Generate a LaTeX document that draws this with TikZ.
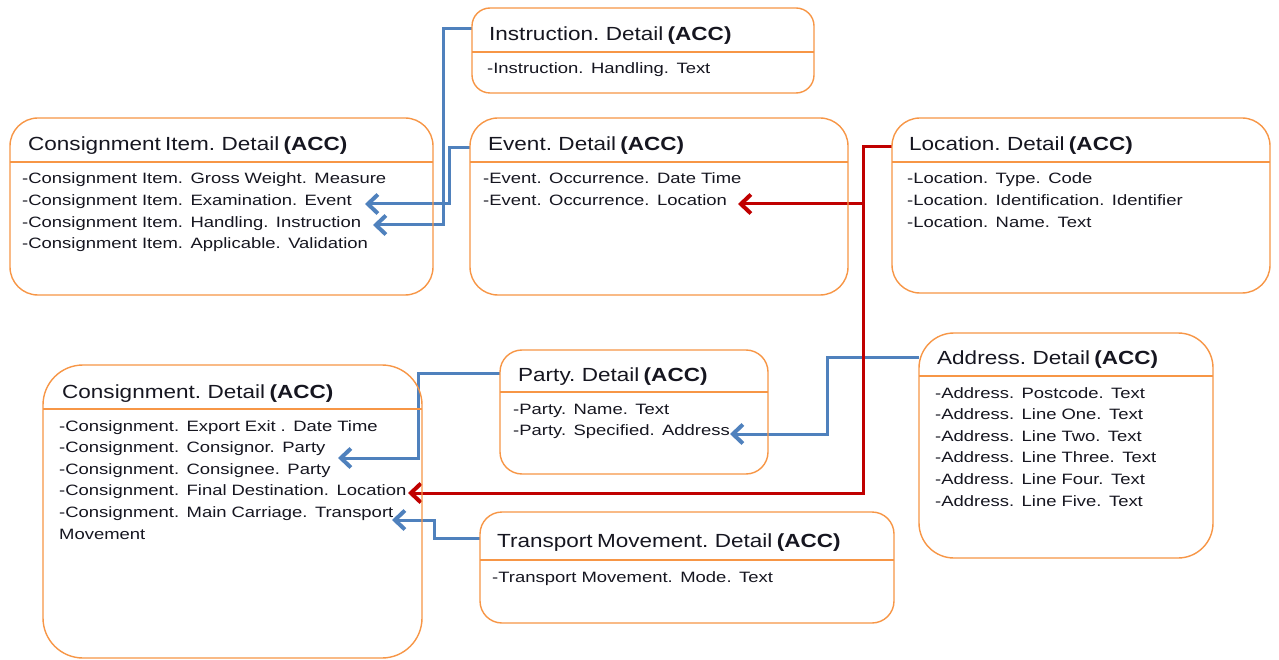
\documentclass[tikz,border=0pt]{standalone}
\usepackage{fontspec}
\newfontfamily\ttlfont{Liberation Sans}[FakeStretch=1.185, WordSpace=0.7]
\newfontfamily\bodfont{Liberation Sans}[FakeStretch=1.23, WordSpace=0.78]
\usetikzlibrary{arrows.meta,calc}
\definecolor{boxorange}{RGB}{247,150,70}
\definecolor{linkblue}{RGB}{79,129,189}
\definecolor{linkred}{RGB}{192,0,0}
\definecolor{ink}{RGB}{22,22,32}
\pgfdeclarelayer{links}
\pgfsetlayers{links,main}
\tikzset{
  acc/.style={draw=boxorange, line width=1.4pt, rectangle, outer sep=0pt, inner sep=0pt, anchor=north west},
  sepline/.style={draw=boxorange, line width=1.4pt},
  ttl/.style={anchor=base west, inner sep=0pt, text=ink, font=\ttlfont\fontsize{19}{23}\selectfont},
  attrs/.style={anchor=base west, inner sep=0pt, text=ink, text width=420pt, align=left, font=\bodfont\fontsize{15}{21.6}\selectfont},
  barb/.tip={Straight Barb[length=10pt,width=19pt,line width=4pt]},
  bluelink/.style={draw=linkblue, line width=3pt, -barb},
  redlink/.style={draw=linkred, line width=3pt, -barb}
}
\begin{document}
\begin{tikzpicture}[x=1pt, y=-1pt]
\useasboundingbox (0,0) rectangle (1279,660);
\begin{pgfonlayer}{links}
\fill[white] (0,0) rectangle (1279,660);
\end{pgfonlayer}

% ---- Instruction
\node[acc, rounded corners=18pt, minimum width=342pt, minimum height=85pt] (instr) at (472,8) {};
\draw[sepline] ($(instr.north west)+(0,44)$) -- ($(instr.north east)+(0,44)$);
\node[ttl] (instr-title) at ($(instr.north west)+(17,33)$) {Instruction. Detail \textbf{(ACC)}};
\node[attrs] (instr-attrs) at ($(instr.north west)+(15,66)$) {-Instruction. Handling. Text};

% ---- Consignment Item
\node[acc, rounded corners=28pt, minimum width=423pt, minimum height=177pt] (item) at (10,118) {};
\draw[sepline] ($(item.north west)+(0,44)$) -- ($(item.north east)+(0,44)$);
\node[ttl] (item-title) at ($(item.north west)+(18,32.5)$) {Consignment Item. Detail \textbf{(ACC)}};
\node[attrs] (item-attrs) at ($(item.north west)+(12,66)$) {-Consignment Item. Gross Weight. Measure\\
-Consignment Item. Examination. Event\\
-Consignment Item. Handling. Instruction\\
-Consignment Item. Applicable. Validation};

% ---- Event
\node[acc, rounded corners=28pt, minimum width=378pt, minimum height=177pt] (event) at (470,118) {};
\draw[sepline] ($(event.north west)+(0,44)$) -- ($(event.north east)+(0,44)$);
\node[ttl] (event-title) at ($(event.north west)+(18,32.5)$) {Event. Detail \textbf{(ACC)}};
\node[attrs] (event-attrs) at ($(event.north west)+(13,66)$) {-Event. Occurrence. Date Time\\
-Event. Occurrence. Location};

% ---- Location
\node[acc, rounded corners=28pt, minimum width=378pt, minimum height=175pt] (loc) at (892,118) {};
\draw[sepline] ($(loc.north west)+(0,44)$) -- ($(loc.north east)+(0,44)$);
\node[ttl] (loc-title) at ($(loc.north west)+(17,32.5)$) {Location. Detail \textbf{(ACC)}};
\node[attrs] (loc-attrs) at ($(loc.north west)+(15,66)$) {-Location. Type. Code\\
-Location. Identification. Identifier\\
-Location. Name. Text};

% ---- Consignment
\node[acc, rounded corners=40pt, minimum width=379pt, minimum height=293pt] (cons) at (43,365) {};
\draw[sepline] ($(cons.north west)+(0,44)$) -- ($(cons.north east)+(0,44)$);
\node[ttl] (cons-title) at ($(cons.north west)+(19,33)$) {Consignment. Detail \textbf{(ACC)}};
\node[attrs] (cons-attrs) at ($(cons.north west)+(16,66)$) {-Consignment. Export Exit . Date Time\\
-Consignment. Consignor. Party\\
-Consignment. Consignee. Party\\
-Consignment. Final Destination. Location\\
-Consignment. Main Carriage. Transport\\
Movement};

% ---- Party
\node[acc, rounded corners=22pt, minimum width=268pt, minimum height=124pt] (party) at (500,350) {};
\draw[sepline] ($(party.north west)+(0,42)$) -- ($(party.north east)+(0,42)$);
\node[ttl] (party-title) at ($(party.north west)+(18,31)$) {Party. Detail \textbf{(ACC)}};
\node[attrs] (party-attrs) at ($(party.north west)+(13,64)$) {-Party. Name. Text\\
-Party. Specified. Address};

% ---- Transport Movement
\node[acc, rounded corners=22pt, minimum width=414pt, minimum height=111pt] (trans) at (480,512) {};
\draw[sepline] ($(trans.north west)+(0,48)$) -- ($(trans.north east)+(0,48)$);
\node[ttl] (trans-title) at ($(trans.north west)+(17,35)$) {Transport Movement. Detail \textbf{(ACC)}};
\node[attrs] (trans-attrs) at ($(trans.north west)+(12,70)$) {-Transport Movement. Mode. Text};

% ---- Address
\node[acc, rounded corners=35pt, minimum width=294pt, minimum height=225pt] (addr) at (919,333) {};
\draw[sepline] ($(addr.north west)+(0,43)$) -- ($(addr.north east)+(0,43)$);
\node[ttl] (addr-title) at ($(addr.north west)+(18,31.5)$) {Address. Detail \textbf{(ACC)}};
\node[attrs] (addr-attrs) at ($(addr.north west)+(16,65)$) {-Address. Postcode. Text\\
-Address. Line One. Text\\
-Address. Line Two. Text\\
-Address. Line Three. Text\\
-Address. Line Four. Text\\
-Address. Line Five. Text};

% ---- arrow targets next to the referencing attributes
\coordinate (to-handling) at (373,225);
\coordinate (to-exam) at (365,204);
\coordinate (to-consignor) at (338,458);
\coordinate (to-carriage) at (392,520);
\coordinate (to-address) at (730,434);
\coordinate (to-destination) at (408,493);
\coordinate (to-occurrence) at (738,204);
\coordinate (loc-branch) at ($(loc.north west)+(-29,86)$);

% ---- associations (kept underneath the box outlines)
\begin{pgfonlayer}{links}
\draw[bluelink] ($(instr.north west)+(0,21)$) -- ++(-29,0) |- (to-handling);
\draw[bluelink] ($(event.north west)+(0,30)$) -- ++(-21,0) |- (to-exam);
\draw[bluelink] ($(party.north west)+(0,23)$) -- ++(-82,0) |- (to-consignor);
\draw[bluelink] ($(trans.north west)+(0,26)$) -- ++(-46,0) |- (to-carriage);
\draw[bluelink] ($(addr.north west)+(0,24)$) -- ++(-92,0) |- (to-address);
\draw[redlink] ($(loc.north west)+(0,29)$) -- ++(-29,0) |- (to-destination);
\draw[redlink] (loc-branch) -- (to-occurrence);
\end{pgfonlayer}
\end{tikzpicture}
\end{document}
